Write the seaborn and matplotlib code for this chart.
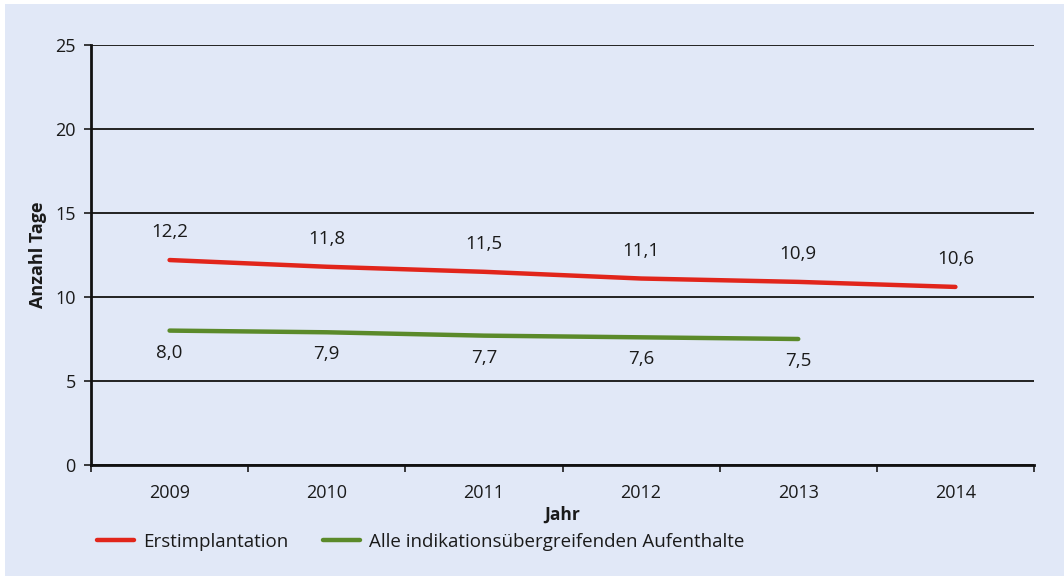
import numpy as np
import pandas as pd
import matplotlib
matplotlib.use("Agg")
import matplotlib.pyplot as plt
import seaborn as sns
from matplotlib.lines import Line2D
from matplotlib.patches import Rectangle

# ================================
# Data
# ================================
years = ["2009", "2010", "2011", "2012", "2013", "2014"]
erst = [12.2, 11.8, 11.5, 11.1, 10.9, 10.6]
alle = [8.0, 7.9, 7.7, 7.6, 7.5]
series_names = ["Erstimplantation", "Alle indikationsübergreifenden Aufenthalte"]

df = pd.concat([
    pd.DataFrame({"x": range(len(erst)), "Tage": erst, "Reihe": series_names[0]}),
    pd.DataFrame({"x": range(len(alle)), "Tage": alle, "Reihe": series_names[1]}),
])

# ================================
# Style
# ================================
bg = "#E1E8F7"
red = "#E1251B"
green = "#5B8A2A"
txt = "#1a1a1a"
sns.set_theme(style="white")
plt.rcParams["font.family"] = ["Open Sans", "DejaVu Sans"]

fig = plt.figure(figsize=(10.64, 5.76), dpi=100, facecolor="white")
# light blue panel with thin white margin at top / left
fig.patches.append(Rectangle((5 / 1064, 0), 1, 1 - 4 / 576, transform=fig.transFigure,
                             facecolor=bg, edgecolor="none", zorder=-10))
ax = fig.add_axes([91 / 1064, 1 - 465 / 576, 943 / 1064, 420 / 576])
ax.set_facecolor(bg)

sns.lineplot(data=df, x="x", y="Tage", hue="Reihe", palette=[red, green],
             linewidth=3.2, ax=ax, legend=False, solid_capstyle="round")

# value labels
for i, v in enumerate(erst):
    ax.annotate(f"{v:.1f}".replace(".", ","), (i, v), xytext=(0, 28),
                textcoords="offset pixels", ha="center", va="center", fontsize=13.5, color=txt)
for i, v in enumerate(alle):
    ax.annotate(f"{v:.1f}".replace(".", ","), (i, v), xytext=(0, -22),
                textcoords="offset pixels", ha="center", va="center", fontsize=13.5, color=txt)

# axes
ax.set_xlim(-0.5, len(years) - 0.5)
ax.set_ylim(0, 25)
ax.set_yticks(np.arange(0, 26, 5))
ax.set_xticks(np.arange(-0.5, len(years), 1.0))
ax.set_xticklabels([])
ax.set_xticks(range(len(years)), minor=True)
ax.set_xticklabels(years, minor=True)
ax.tick_params(axis="x", which="major", direction="out", length=5, width=1.2, color=txt, bottom=True)
ax.tick_params(axis="x", which="minor", length=0, pad=14, labelsize=13, labelcolor=txt)
ax.tick_params(axis="y", direction="out", length=5, width=1.2, color=txt, left=True,
               labelsize=13, labelcolor=txt, pad=6)
ax.yaxis.grid(True, color="#222222", linewidth=1.4)
ax.set_axisbelow(True)
for s in ["top", "right"]:
    ax.spines[s].set_visible(False)
for s in ["left", "bottom"]:
    ax.spines[s].set_color("#111111")
    ax.spines[s].set_linewidth(2)

ax.set_xlabel("Jahr", fontsize=12.5, fontweight="bold", color=txt, labelpad=2)
ax.set_ylabel("Anzahl Tage", fontsize=13, fontweight="bold", color=txt, labelpad=6)

# legend
handles = [Line2D([], [], color=red, lw=3.2, solid_capstyle="round"),
           Line2D([], [], color=green, lw=3.2, solid_capstyle="round")]
fig.legend(handles, series_names, loc="center left", bbox_to_anchor=(80 / 1064, 1 - 542 / 576),
           ncol=2, frameon=False, fontsize=13.5, handlelength=2.0, columnspacing=1.85,
           handletextpad=0.45, labelcolor=txt)

fig.savefig("out.png", dpi=100, facecolor="white")
